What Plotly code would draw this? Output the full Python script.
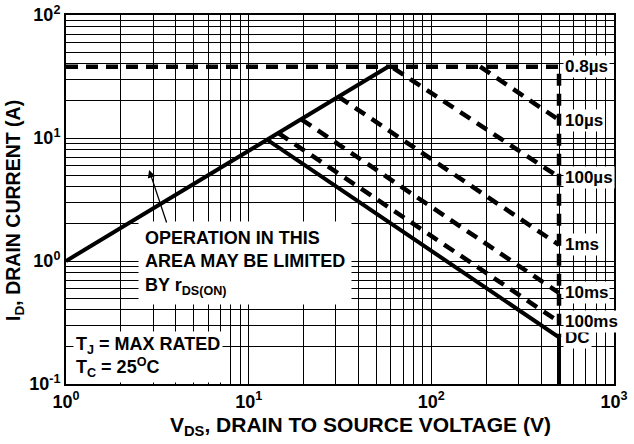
import math
import plotly.graph_objects as go

# safe operating area
rds_v = [1, 58]
rds_i = [1, 38]

dc_v = [12.6, 500, 500]
dc_i = [9.7, 0.24, 0.1]

limit_v = [1, 500, 500]
limit_i = [38, 38, 0.24]

pulse_labels = ["10µs", "100µs", "1ms", "10ms", "100ms"]
pulse_start_v = [185, 62, 31, 19.4, 14.5]
pulse_start_i = [38, 37, 21.7, 14.2, 11.0]
pulse_end_v = [500, 500, 500, 500, 500]
pulse_end_i = [14.0, 4.8, 1.35, 0.55, 0.32]

label_text = ["0.8µs", "10µs", "100µs", "1ms", "10ms", "100ms", "DC"]
label_i = [38, 14.0, 4.8, 1.35, 0.55, 0.32, 0.24]

x_grid = [m * 10 ** d for d in range(0, 3) for m in range(1, 10)] + [1000]
y_grid = [m * 10 ** d for d in range(-1, 2) for m in range(1, 10)] + [100]

FONT = "Liberation Sans, Arial, sans-serif"


def decade_text(vals):
    out = []
    for v in vals:
        e = math.log10(v)
        if abs(e - round(e)) < 1e-9:
            out.append("<b>10<sup>%d</sup></b>" % round(e))
        else:
            out.append("")
    return out


fig = go.Figure()

dash = "12px,8px"
fig.add_trace(go.Scatter(x=limit_v, y=limit_i, mode="lines",
                         line=dict(color="black", width=4.5, dash=dash)))
for sv, si, ev, ei in zip(pulse_start_v, pulse_start_i, pulse_end_v, pulse_end_i):
    fig.add_trace(go.Scatter(x=[sv, ev], y=[si, ei], mode="lines",
                             line=dict(color="black", width=4.5, dash=dash)))
fig.add_trace(go.Scatter(x=rds_v, y=rds_i, mode="lines",
                         line=dict(color="black", width=4)))
fig.add_trace(go.Scatter(x=dc_v, y=dc_i, mode="lines",
                         line=dict(color="black", width=4)))

annotations = []
# right-hand labels, bottom ones first so the upper boxes sit on top
for t, i in reversed(list(zip(label_text, label_i))):
    annotations.append(dict(
        x=math.log10(525), y=math.log10(i), xref="x", yref="y",
        text="<b>%s</b>" % t, showarrow=False, xanchor="left", yanchor="middle",
        bgcolor="white", borderpad=1, font=dict(size=17, color="black", family=FONT)))

annotations.append(dict(
    x=math.log10(2.48), y=math.log10(0.955), xref="x", yref="y",
    text="<b>OPERATION IN THIS<br>AREA MAY BE LIMITED<br>BY r<sub>DS(ON)</sub></b>",
    showarrow=False, xanchor="left", yanchor="middle", align="left",
    bgcolor="white", borderpad=6, font=dict(size=18, color="black", family=FONT)))

annotations.append(dict(
    x=math.log10(2.85), y=math.log10(5.5), xref="x", yref="y", text="",
    showarrow=True, ax=18, ay=54, arrowhead=2, arrowsize=1.2, arrowwidth=1.3,
    arrowcolor="black"))

annotations.append(dict(
    x=math.log10(1.09), y=math.log10(0.1), xref="x", yref="y",
    text="<b>T<sub>J</sub> = MAX RATED<br>T<sub>C</sub> = 25<sup>O</sup>C</b>",
    showarrow=False, xanchor="left", yanchor="bottom", align="left",
    bgcolor="white", borderpad=2, yshift=1,
    font=dict(size=18, color="black", family=FONT)))

annotations.append(dict(
    x=0.537, y=-0.114, xref="paper", yref="paper",
    text="<b>V<sub>DS</sub>, DRAIN TO SOURCE VOLTAGE (V)</b>",
    showarrow=False, xanchor="center", yanchor="middle",
    font=dict(size=21, color="black", family=FONT)))

annotations.append(dict(
    x=-0.093, y=0.469, xref="paper", yref="paper", textangle=-90,
    text="<b>I<sub>D</sub>, DRAIN CURRENT (A)</b>",
    showarrow=False, xanchor="center", yanchor="middle",
    font=dict(size=19.5, color="black", family=FONT)))

axis_common = dict(type="log", showgrid=True, gridcolor="black", gridwidth=1.4,
                   showline=True, linecolor="black", linewidth=2, mirror=True,
                   ticks="", zeroline=False, tickmode="array", automargin=False,
                   ticklabeloverflow="allow",
                   tickfont=dict(size=18, color="black", family=FONT))

fig.update_xaxes(range=[0, 3], tickvals=x_grid, ticktext=decade_text(x_grid), **axis_common)
fig.update_yaxes(range=[-1, 2], tickvals=y_grid, ticktext=decade_text(y_grid), **axis_common)

fig.update_layout(
    width=634, height=444,
    margin=dict(l=66, r=20, t=15, b=60),
    plot_bgcolor="white", paper_bgcolor="white",
    showlegend=False,
    annotations=annotations,
    font=dict(family=FONT, color="black"),
)

# drop the default 8px page margin so the figure fills the window
fig.write_html("out.html", config={"displayModeBar": False},
               post_script="document.body.style.margin='0';")
